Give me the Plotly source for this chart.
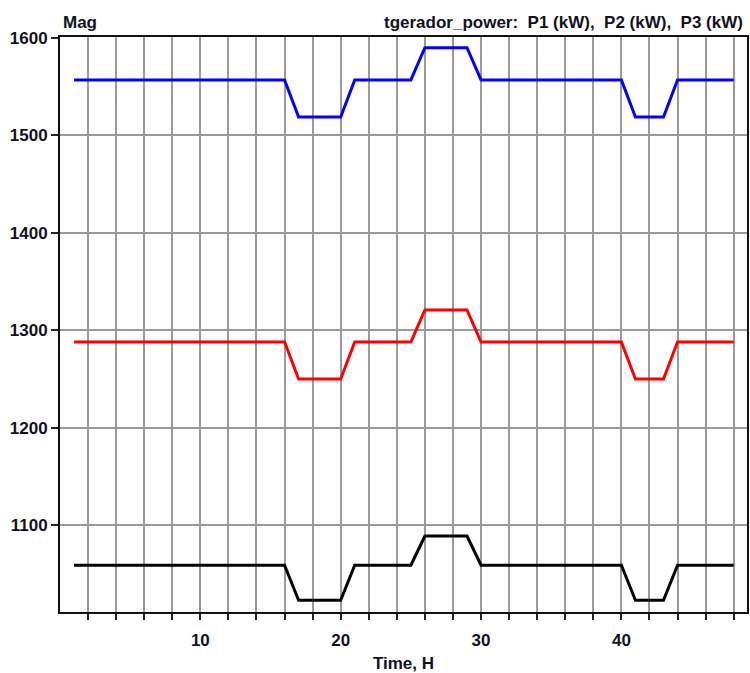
import plotly.graph_objects as go

hours = list(range(1, 49))
# level per hour: base, low (17-20, 41-43), high (26-29)
def profile(base, low, high):
    vals = []
    for h in hours:
        if 17 <= h <= 20 or 41 <= h <= 43:
            vals.append(low)
        elif 26 <= h <= 29:
            vals.append(high)
        else:
            vals.append(base)
    return vals

P1 = profile(1557, 1519, 1590)
P2 = profile(1288, 1250, 1321)
P3 = profile(1059, 1023, 1089)

series = [("P1 (kW)", P1, "#0000FF"), ("P2 (kW)", P2, "#FF0000"), ("P3 (kW)", P3, "#000000")]

x_tickvals = list(range(2, 49, 2))
x_ticktext = [str(v) if v % 10 == 0 else "" for v in x_tickvals]
y_tickvals = [1100, 1200, 1300, 1400, 1500, 1600]

FONT = "Liberation Sans, Arial, sans-serif"
TXT = "#111122"

fig = go.Figure()
for name, vals, col in series:
    fig.add_trace(go.Scatter(x=hours, y=vals, mode="lines", name=name,
                             line=dict(color=col, width=3)))

fig.update_layout(
    width=750, height=673,
    margin=dict(l=60, r=3, t=37, b=61),
    paper_bgcolor="white", plot_bgcolor="white",
    showlegend=False,
    font=dict(family=FONT, size=17, color=TXT),
    annotations=[
        dict(text="<b>Mag</b>", xref="paper", yref="paper", x=0.002, y=1.0,
             xanchor="left", yanchor="bottom", showarrow=False, yshift=3,
             font=dict(size=17, color=TXT, family=FONT)),
        dict(text="<b>tgerador_power:  P1 (kW),  P2 (kW),  P3 (kW)</b>", xref="paper", yref="paper",
             x=0.997, y=1.0, xanchor="right", yanchor="bottom", showarrow=False, yshift=3,
             font=dict(size=17, color=TXT, family=FONT)),
    ],
)
fig.update_xaxes(
    range=[0, 48.95], tickvals=x_tickvals, ticktext=x_ticktext,
    showgrid=True, gridcolor="#9a9a9a", gridwidth=1.5,
    ticks="outside", ticklen=6, tickwidth=1.5, tickcolor="#222222",
    showline=True, linecolor="#111111", linewidth=2, mirror=True,
    zeroline=False, ticklabelstandoff=6, automargin=False,
    tickfont=dict(family=FONT, size=17, color=TXT, weight="bold"),
    title=dict(text="<b>Time, H</b>", font=dict(family=FONT, size=17, color=TXT), standoff=12),
)
fig.update_yaxes(
    range=[1011, 1601], tickvals=y_tickvals,
    showgrid=True, gridcolor="#9a9a9a", gridwidth=1.5,
    ticks="outside", ticklen=7, tickwidth=1.5, tickcolor="#222222",
    showline=True, linecolor="#111111", linewidth=2, mirror=True,
    zeroline=False, automargin=False,
    tickfont=dict(family=FONT, size=17, color=TXT, weight="bold"),
)

fig.write_html("out.html")
